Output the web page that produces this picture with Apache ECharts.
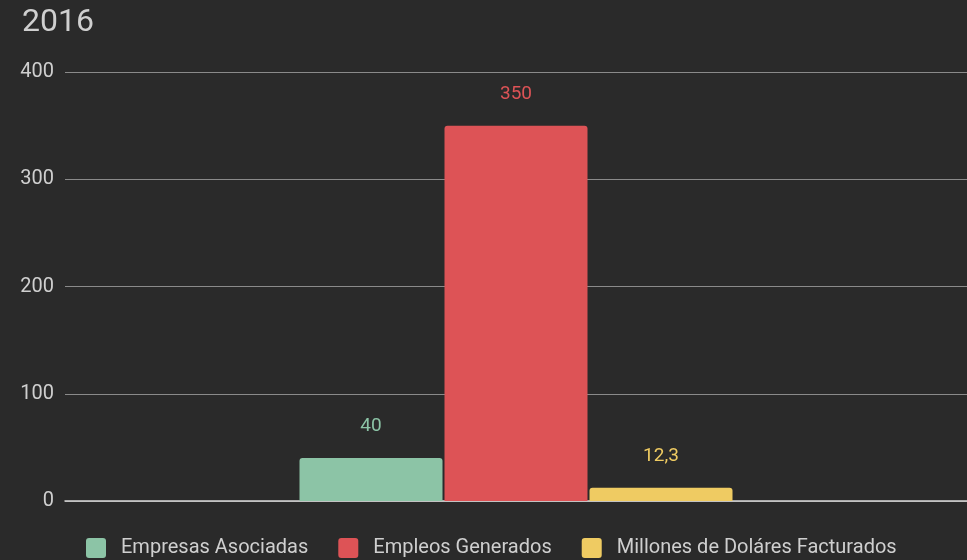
<!DOCTYPE html>
<html>
<head>
<meta charset="utf-8">
<script src="https://cdn.jsdelivr.net/npm/echarts@6/dist/echarts.min.js"></script>
<style>
  html, body { margin: 0; padding: 0; background: #2a2a2a; }
  #chart { width: 967px; height: 560px; }
</style>
</head>
<body>
<div id="chart"></div>
<script>
// Yearly figures for 2016
const titleText = '2016';
const categories = ['2016'];
const seriesNames = ['Empresas Asociadas', 'Empleos Generados', 'Millones de Doláres Facturados'];
const seriesValues = [40, 350, 12.3];
const seriesColors = ['#8cc4a6', '#dd5356', '#efcb62'];
const yTicks = { min: 0, max: 400, interval: 100 };

const fontFamily = 'Roboto, "Noto Sans", sans-serif';
// small square with slightly rounded corners for the legend
const legendIcon = 'path://M3,0 H17 Q20,0 20,3 V17 Q20,20 17,20 H3 Q0,20 0,17 V3 Q0,0 3,0 Z';

const chart = echarts.init(document.getElementById('chart'));

const series = seriesNames.map((name, i) => ({
  name: name,
  type: 'bar',
  data: [seriesValues[i]],
  barWidth: 143,
  barGap: '1.4%',
  itemStyle: { color: seriesColors[i], borderRadius: [3, 3, 0, 0] },
  label: {
    show: true,
    position: 'top',
    distance: 22,
    color: seriesColors[i],
    fontFamily: fontFamily,
    fontSize: 19,
    formatter: p => String(p.value).replace('.', ',')
  }
}));

chart.setOption({
  backgroundColor: '#2a2a2a',
  animation: false,
  title: {
    text: titleText,
    left: 17,
    top: 2,
    textStyle: { color: '#cfcfcf', fontFamily: fontFamily, fontSize: 32, fontWeight: 'normal' }
  },
  legend: {
    bottom: -3,
    left: 81,
    itemWidth: 20,
    itemHeight: 20,
    itemGap: 30,
    icon: legendIcon,
    textStyle: { color: '#cfcfcf', fontFamily: fontFamily, fontSize: 20, padding: [0, 0, 0, 10] },
    data: seriesNames
  },
  grid: { left: 65, right: 0, top: 72, bottom: 59 },
  xAxis: {
    type: 'category',
    data: categories,
    axisLine: { show: true, lineStyle: { color: '#d6d6d6', width: 1.5 } },
    axisTick: { show: false },
    axisLabel: { show: false }
  },
  yAxis: {
    type: 'value',
    min: yTicks.min,
    max: yTicks.max,
    interval: yTicks.interval,
    axisLine: { show: false },
    axisTick: { show: false },
    axisLabel: { color: '#cfcfcf', fontFamily: fontFamily, fontSize: 20, margin: 11 },
    splitLine: { lineStyle: { color: '#8a8a8a', width: 1 } }
  },
  series: series
});
</script>
</body>
</html>
